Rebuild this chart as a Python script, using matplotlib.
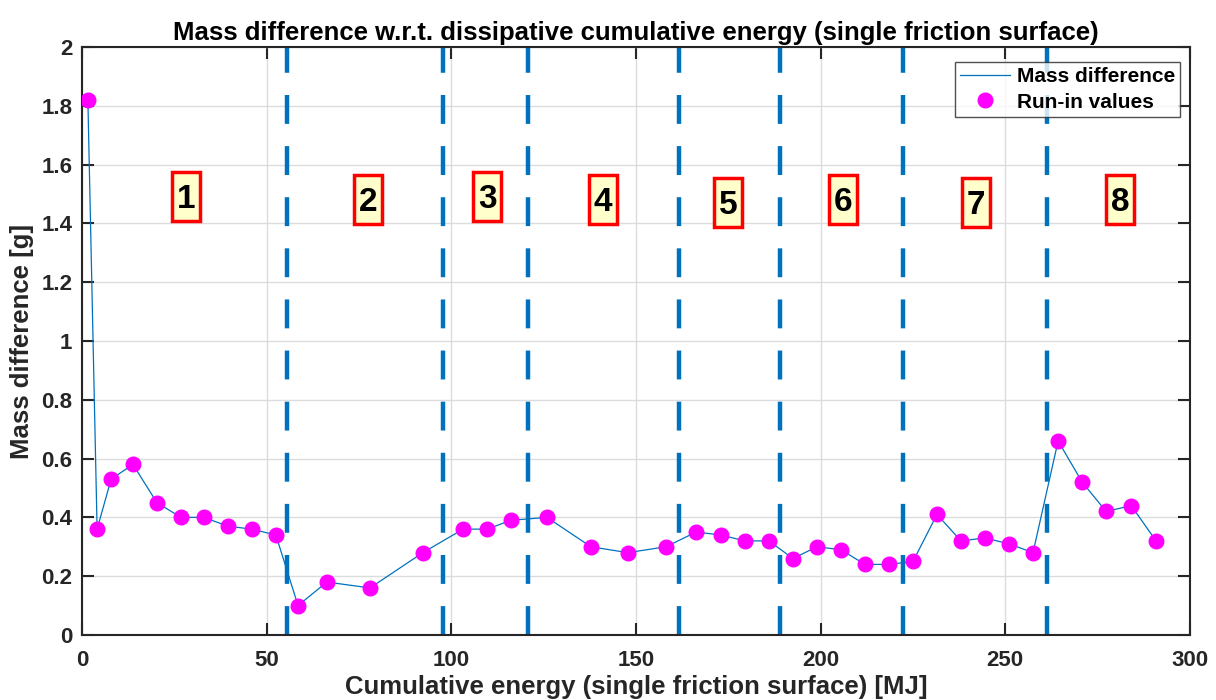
import matplotlib
matplotlib.use("Agg")
import matplotlib.pyplot as plt
from matplotlib.path import Path

plt.rcParams['font.family'] = ['Liberation Sans', 'DejaVu Sans']
plt.rcParams['font.weight'] = 'bold'

# cumulative energy [MJ] and mass difference [g]
energy = [1.6, 4.1, 7.9, 13.8, 20.3, 26.8, 33.0, 39.5, 46.0, 52.5,
          58.5, 66.3, 78.0, 92.3, 103.2, 109.7, 116.1, 125.9, 137.8, 147.8,
          158.1, 166.3, 173.0, 179.5, 186.0, 192.5, 199.0, 205.5, 212.0, 218.5,
          225.0, 231.5, 238.0, 244.5, 251.0, 257.5, 264.3, 270.8, 277.3, 284.1,
          290.8]
mass = [1.82, 0.36, 0.53, 0.58, 0.45, 0.40, 0.40, 0.37, 0.36, 0.34,
        0.10, 0.18, 0.16, 0.28, 0.36, 0.36, 0.39, 0.40, 0.30, 0.28,
        0.30, 0.35, 0.34, 0.32, 0.32, 0.26, 0.30, 0.29, 0.24, 0.24,
        0.25, 0.41, 0.32, 0.33, 0.31, 0.28, 0.66, 0.52, 0.42, 0.44,
        0.32]

# section boundaries and section labels
bounds = [55.5, 97.8, 120.8, 161.7, 189.0, 222.3, 261.3]
sec_labels = ['1', '2', '3', '4', '5', '6', '7', '8']
sec_x = [28.2, 77.4, 109.7, 141.1, 174.9, 206.1, 242.1, 281.1]
sec_y = [1.48, 1.47, 1.48, 1.47, 1.46, 1.47, 1.46, 1.47]


def label_box(x0, y0, width, height, mutation_size):
    # box with more room on top so the digit sits in the middle
    px = 0.14 * mutation_size
    top = 0.38 * mutation_size
    bot = 0.18 * mutation_size
    l, r = x0 - px, x0 + width + px
    b, t = y0 - bot, y0 + height + top
    return Path([(l, b), (r, b), (r, t), (l, t), (l, b)],
                [Path.MOVETO, Path.LINETO, Path.LINETO, Path.LINETO, Path.CLOSEPOLY])


fig = plt.figure(figsize=(12.16, 7), dpi=100)
ax = fig.add_axes([0.0674, 0.0929, 0.9112, 0.84])

ax.plot(energy, mass, color='#0072BD', lw=0.9, label='Mass difference', zorder=3)
ax.plot(energy, mass, 'o', color='#FF00FF', ms=10.5, mec='#FF00FF', ls='none',
        label='Run-in values', zorder=4)

for b in bounds:
    ax.axvline(b, color='#0072BD', lw=3.2, dashes=(6.5, 5), zorder=2)

for t, x, y in zip(sec_labels, sec_x, sec_y):
    ax.text(x, y, t, fontsize=24, fontweight='bold', ha='center', va='center',
            bbox=dict(boxstyle=label_box, fc='#FFFFCC', ec='red', lw=2.5),
            zorder=5)

ax.set_xlim(0, 300)
ax.set_ylim(0, 2)
ax.set_xticks(range(0, 301, 50))
ax.set_yticks([0, 0.2, 0.4, 0.6, 0.8, 1, 1.2, 1.4, 1.6, 1.8, 2])
ax.set_yticklabels(['0', '0.2', '0.4', '0.6', '0.8', '1', '1.2', '1.4', '1.6', '1.8', '2'])
ax.grid(True, color='#DCDCDC', lw=1)
ax.set_axisbelow(True)
ax.tick_params(direction='in', length=8.5, width=1.5, top=True, right=True,
               labelsize=16, colors='#262626')
ax.tick_params(axis='x', pad=11)
ax.tick_params(axis='y', pad=7)
for s in ax.spines.values():
    s.set_linewidth(1.5)
    s.set_color('#262626')

ax.set_title('Mass difference w.r.t. dissipative cumulative energy (single friction surface)',
             fontsize=18.5, fontweight='bold', pad=5)
ax.set_xlabel('Cumulative energy (single friction surface) [MJ]', fontsize=18.5,
              fontweight='bold', labelpad=3, color='#262626')
ax.set_ylabel('Mass difference [g]', fontsize=18.5, fontweight='bold', labelpad=5,
              color='#262626')

leg = ax.legend(loc='upper right', bbox_to_anchor=(0.991, 0.974), borderaxespad=0,
                fontsize=15, frameon=True, fancybox=False, edgecolor='#262626',
                borderpad=0.25, handlelength=2.4, labelspacing=0.3,
                handletextpad=0.3)
leg.get_frame().set_linewidth(1)

fig.savefig('out.png', dpi=100)
